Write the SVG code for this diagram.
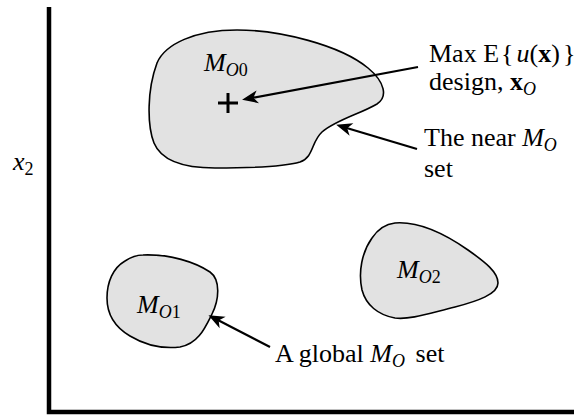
<svg xmlns="http://www.w3.org/2000/svg" width="574" height="416" viewBox="0 0 574 416">
<style>
text{font-family:"Liberation Serif","Times New Roman",serif;font-size:26px;fill:#000}
.it{font-style:italic}
.bf{font-weight:bold}
.sub{font-size:18px;font-style:italic}
.blob{fill:#e2e2e2;stroke:#000;stroke-width:1.6}
.arr{fill:none;stroke:#000;stroke-width:2.2;marker-end:url(#ah)}
.axis{fill:none;stroke:#000;stroke-width:4.5}
</style>
<defs>
<marker id="ah" markerUnits="userSpaceOnUse" viewBox="-17 -7 18 14" refX="-4" refY="0" markerWidth="18" markerHeight="14" orient="auto">
<path d="M0,0 L-16,-6.5 L-11.5,0 L-16,6.5 Z" fill="#000"/>
</marker>
</defs>
<g id="axes">
<path class="axis" d="M49,7 L49,412 L574,412"/>
<text x="13" y="170" class="it">x<tspan class="sub" style="font-style:normal" dy="5">2</tspan></text>
</g>
<g id="set0">
<path class="blob" d="M237,30 C280,30 340,45 368,68 C385,82 388,97 377,104 C360,114 336,120 322,132 C311,142 314,157 300,162 C280,168 240,168 215,168 C182,168 161,160 154,143 C147,125 147,90 157,63 C165,44 195,30 237,30 Z"/>
<text x="204" y="71" class="it">M<tspan class="sub" dy="5">O</tspan><tspan class="sub" style="font-style:normal">0</tspan></text>
<path d="M228,93 V113 M218,103 H238" stroke="#000" stroke-width="3" fill="none"/>
</g>
<g id="set1">
<path class="blob" d="M143,255 C170,254 195,262 210,272 C221,280 219,300 212,314 C205,328 198,344 180,347 C163,349 145,345 130,336 C113,326 107,312 107,298 C107,282 113,268 125,261 C131,257 137,255 143,255 Z"/>
<text x="137" y="313" class="it">M<tspan class="sub" dy="5">O</tspan><tspan class="sub" style="font-style:normal">1</tspan></text>
</g>
<g id="set2">
<path class="blob" d="M395,223 C420,221 445,234 468,250 C485,262 498,272 498,283 C498,294 478,301 455,307 C430,313 410,320 395,318 C378,315 366,305 362,290 C358,272 362,252 372,238 C378,229 386,224 395,223 Z"/>
<text x="397" y="278" class="it">M<tspan class="sub" dy="5">O</tspan><tspan class="sub" style="font-style:normal">2</tspan></text>
</g>
<g id="labels">
<text x="429" y="62">Max E<tspan dx="2">{</tspan><tspan class="it" dx="3">u</tspan>(<tspan class="bf">x</tspan>)<tspan dx="3">}</tspan></text>
<text x="429" y="90">design, <tspan class="bf">x</tspan><tspan class="sub" dy="5">O</tspan></text>
<text x="424" y="146">The near <tspan class="it">M</tspan><tspan class="sub" dy="5">O</tspan></text>
<text x="424" y="177">set</text>
<text x="275" y="362">A global <tspan class="it">M</tspan><tspan class="sub" dy="5">O</tspan><tspan dy="-5" dx="4"> set</tspan></text>
</g>
<g id="connectors">
<path class="arr" d="M418,67 L246,99"/>
<path class="arr" d="M417,149 L340,126"/>
<path class="arr" d="M270,347 L212,317"/>
</g>
</svg>
